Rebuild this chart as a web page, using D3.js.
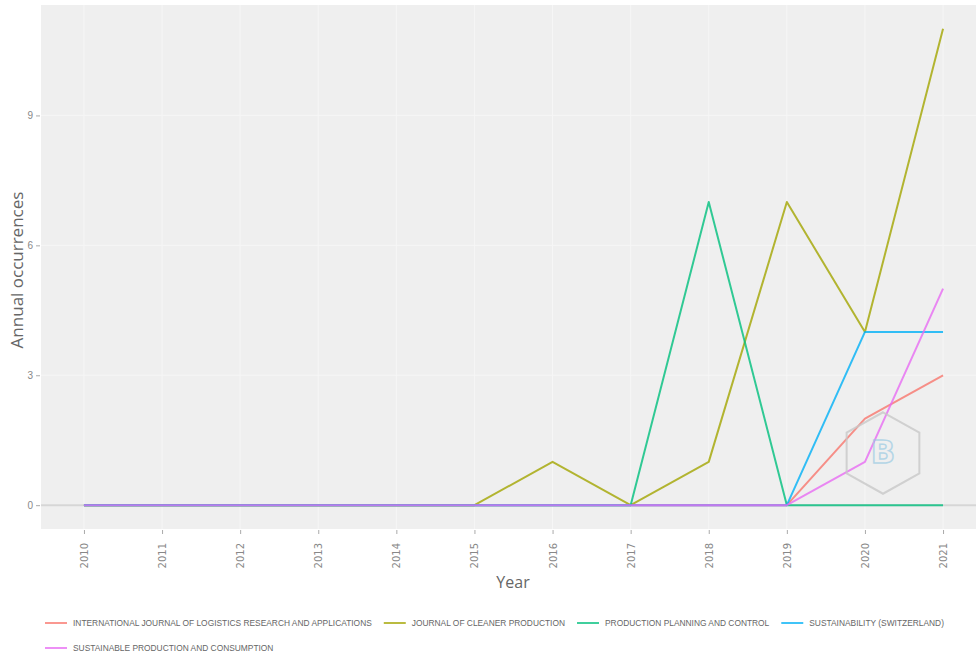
<!DOCTYPE html>
<html><head><meta charset="utf-8">
<script src="https://cdn.jsdelivr.net/npm/d3@7"></script>
<style>body{margin:0;background:#fff}svg{display:block}</style>
</head><body>
<svg id="chart" width="976" height="659"></svg>
<script>
const years = [2010,2011,2012,2013,2014,2015,2016,2017,2018,2019,2020,2021];
const seriesNames = [
  "INTERNATIONAL JOURNAL OF LOGISTICS RESEARCH AND APPLICATIONS",
  "JOURNAL OF CLEANER PRODUCTION",
  "PRODUCTION PLANNING AND CONTROL",
  "SUSTAINABILITY (SWITZERLAND)",
  "SUSTAINABLE PRODUCTION AND CONSUMPTION"
];
const intJLogistics   = [0,0,0,0,0,0,0,0,0,0,2,3];
const jCleanerProd    = [0,0,0,0,0,0,1,0,1,7,4,11];
const prodPlanControl = [0,0,0,0,0,0,0,0,7,0,0,0];
const sustainability  = [0,0,0,0,0,0,0,0,0,0,4,4];
const sustProdCons    = [0,0,0,0,0,0,0,0,0,0,1,5];
const seriesValues = [intJLogistics, jCleanerProd, prodPlanControl, sustainability, sustProdCons];
const colors = ["#F8766D","#A3A500","#00BF7D","#00B0F6","#E76BF3"];
const yTicks = [0,3,6,9];

const svg = d3.select("#chart");
const panel = {left:41, right:986, top:5, bottom:529};
const x = d3.scaleLinear().domain([2010 - 0.55, 2021 + 0.55]).range([panel.left, panel.right]);
const y = d3.scaleLinear().domain([-0.55, 11.55]).range([panel.bottom, panel.top]);

svg.append("rect").attr("x",panel.left).attr("y",panel.top)
  .attr("width",panel.right-panel.left).attr("height",panel.bottom-panel.top).attr("fill","#efefef");

// grid
svg.append("g").selectAll("line").data(years).join("line")
  .attr("x1",d=>x(d)).attr("x2",d=>x(d)).attr("y1",panel.top).attr("y2",panel.bottom)
  .attr("stroke","#f6f6f6").attr("stroke-width",1);
svg.append("g").selectAll("line").data(yTicks).join("line")
  .attr("y1",d=>y(d)).attr("y2",d=>y(d)).attr("x1",panel.left).attr("x2",panel.right)
  .attr("stroke","#f6f6f6").attr("stroke-width",1);

// zero reference
svg.append("line").attr("x1",panel.left).attr("x2",panel.right).attr("y1",y(0)).attr("y2",y(0))
  .attr("stroke","#d6d6d6").attr("stroke-width",2);

// axes
const yAxis = d3.axisLeft(y).tickValues(yTicks).tickSize(4).tickPadding(3);
const gy = svg.append("g").attr("transform",`translate(${panel.left-1},0)`).call(yAxis);
gy.select(".domain").remove();
gy.selectAll("line").attr("stroke","#aaa");
gy.selectAll("text").attr("fill","#888").style("font-family","Liberation Sans, Arial, sans-serif").style("font-size","10px");

const xAxis = d3.axisBottom(x).tickValues(years).tickFormat(d3.format("d")).tickSize(4).tickPadding(3);
const gx = svg.append("g").attr("transform",`translate(0,${panel.bottom+1})`).call(xAxis);
gx.select(".domain").remove();
gx.selectAll("line").attr("stroke","#aaa");
gx.selectAll("text").attr("fill","#888").style("font-family","DejaVu Sans, sans-serif").style("font-size","10px")
  .attr("transform","rotate(-90)").attr("text-anchor","end").attr("dy","0.35em").attr("x",-13).attr("y",0);

// titles
svg.append("text").attr("x",513).attr("y",588).attr("text-anchor","middle")
  .style("font-family","Open Sans, DejaVu Sans, sans-serif").style("font-size","16px").attr("fill","#666").text("Year");
svg.append("text").attr("transform","translate(23,270) rotate(-90)").attr("text-anchor","middle")
  .style("font-family","Open Sans, DejaVu Sans, sans-serif").style("font-size","17px").attr("fill","#666").text("Annual occurrences");

// lines
const line = d3.line().x((d,i)=>x(years[i])).y(d=>y(d));
svg.append("g").selectAll("path").data(seriesValues).join("path")
  .attr("d",d=>line(d)).attr("fill","none")
  .attr("stroke",(d,i)=>colors[i]).attr("stroke-width",2).attr("stroke-opacity",0.8)
  .attr("stroke-linejoin","round");

// watermark
const hx = 883, hy = 453, hr = 42;
const hex = d3.range(6).map(k=>{const a=Math.PI/3*k - Math.PI/2; return [hx+hr*Math.cos(a), hy+hr*Math.sin(a)*0.97];});
svg.append("polygon").attr("points",hex.map(p=>p.join(",")).join(" "))
  .attr("fill","none").attr("stroke","#c8c8c8").attr("stroke-width",2).attr("opacity",0.8);
svg.append("text").attr("x",hx).attr("y",hy+10).attr("text-anchor","middle")
  .style("font-family","DejaVu Sans, sans-serif").style("font-size","32px").style("font-weight","bold")
  .attr("fill","none").attr("stroke","#9ccbe3").attr("stroke-width",1.5).attr("opacity",0.7).text("B");

// legend
const lg = svg.append("g").style("font-family","Liberation Sans, Arial, sans-serif").style("font-size","8.4px");
const rows = [[0,1,2,3],[4]];
rows.forEach((row,ri)=>{
  let cx = 45;
  const ly = 623 + ri*25;
  row.forEach(i=>{
    lg.append("line").attr("x1",cx).attr("x2",cx+22).attr("y1",ly).attr("y2",ly)
      .attr("stroke",colors[i]).attr("stroke-width",1.5);
    const t = lg.append("text").attr("x",cx+28).attr("y",ly).attr("dy","0.35em").attr("fill","#666").text(seriesNames[i]);
    cx += 28 + t.node().getComputedTextLength() + 12;
  });
});
</script>
</body></html>
